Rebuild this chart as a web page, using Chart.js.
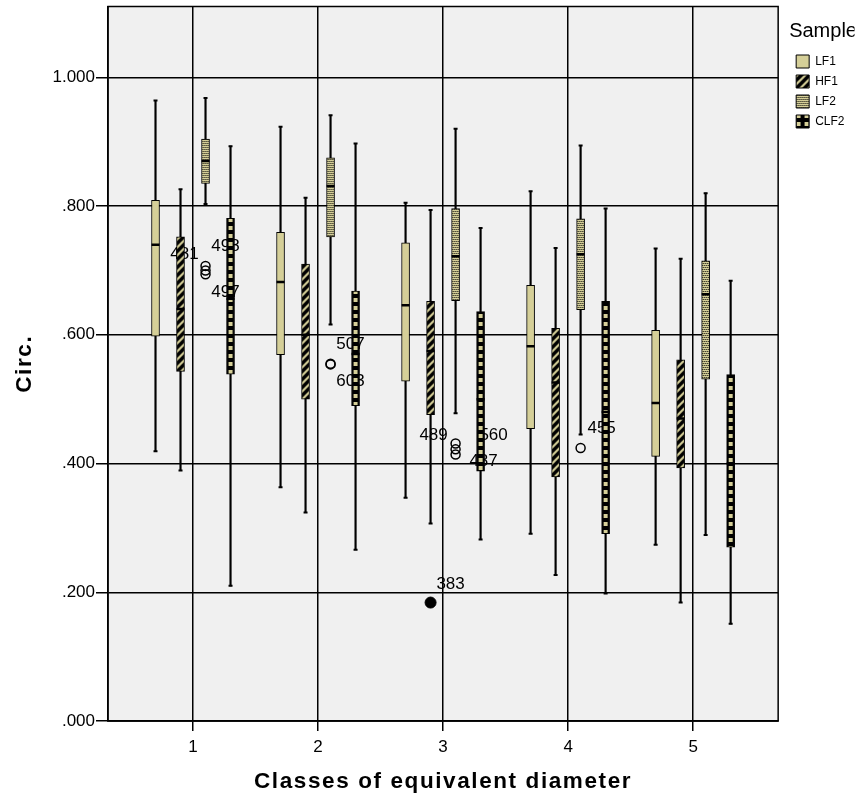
<!DOCTYPE html>
<html>
<head>
<meta charset="utf-8">
<script src="https://cdn.jsdelivr.net/npm/chart.js@4.4.0/dist/chart.umd.min.js"></script>
<style>
  html, body { margin: 0; padding: 0; background: #fff; }
</style>
</head>
<body>
<canvas id="box-chart" width="867" height="801"></canvas>
<script>
const categories = [1, 2, 3, 4, 5];
const seriesNames = ["LF1", "HF1", "LF2", "CLF2"];
const yTicks = [0, 0.2, 0.4, 0.6, 0.8, 1.0];

// [min, q1, median, q3, max] for each class of equivalent diameter
const lf1 = [
  [0.419, 0.598, 0.740, 0.809, 0.964],
  [0.363, 0.569, 0.682, 0.759, 0.923],
  [0.347, 0.528, 0.646, 0.743, 0.805],
  [0.291, 0.454, 0.582, 0.677, 0.823],
  [0.274, 0.411, 0.494, 0.607, 0.734],
];
const hf1 = [
  [0.389, 0.543, 0.640, 0.752, 0.826],
  [0.324, 0.500, 0.600, 0.710, 0.813],
  [0.307, 0.476, 0.575, 0.652, 0.794],
  [0.227, 0.379, 0.526, 0.610, 0.735],
  [0.184, 0.393, 0.470, 0.561, 0.718],
];
const lf2 = [
  [0.803, 0.835, 0.870, 0.904, 0.968],
  [0.616, 0.752, 0.831, 0.875, 0.941],
  [0.478, 0.653, 0.722, 0.796, 0.920],
  [0.445, 0.639, 0.725, 0.780, 0.894],
  [0.289, 0.531, 0.663, 0.715, 0.820],
];
const clf2 = [
  [0.210, 0.539, 0.656, 0.781, 0.893],
  [0.266, 0.490, 0.570, 0.668, 0.897],
  [0.282, 0.388, 0.500, 0.636, 0.766],
  [0.198, 0.291, 0.480, 0.652, 0.796],
  [0.151, 0.270, 0.400, 0.538, 0.684],
];

// [series, class, value, case number]
const outliers = [
  ["LF2", 1, 0.707, "481"],
  ["LF2", 1, 0.700, "498"],
  ["LF2", 1, 0.694, "497"],
  ["LF2", 2, 0.555, "507"],
  ["LF2", 2, 0.554, "603"],
  ["LF2", 3, 0.431, "489"],
  ["LF2", 3, 0.422, "560"],
  ["LF2", 3, 0.414, "487"],
  ["LF2", 4, 0.424, "455"],
];
const extremes = [
  ["HF1", 3, 0.184, "383"],
];

// layout only: where each box sits inside its class, and label nudges in px
const seriesOffset = [-0.3, -0.1, 0.1, 0.3];
const labelOffsets = {
  "481": [-21, -12], "498": [20, -24], "497": [20, 18],
  "507": [20, -19], "603": [20, 17],
  "489": [-22, -8], "560": [38, -14], "487": [28, 7],
  "455": [21, -20], "383": [20, -18],
};

Chart.defaults.font.family = "'Liberation Sans', Arial, sans-serif";
Chart.defaults.color = "#000";

const KHAKI = "#d5cf98";
const canvas = document.getElementById("box-chart");
const ctx2d = canvas.getContext("2d");

function tile(w, h, bg, paint) {
  const c = document.createElement("canvas");
  c.width = w;
  c.height = h;
  const g = c.getContext("2d");
  g.fillStyle = bg;
  g.fillRect(0, 0, w, h);
  g.fillStyle = KHAKI;
  g.strokeStyle = KHAKI;
  paint(g);
  return c;
}

const tiles = {
  HF1: tile(8, 8, "#000", g => {
    g.lineWidth = 2.2;
    g.beginPath();
    g.moveTo(-1, 9); g.lineTo(9, -1);
    g.moveTo(-1, 1); g.lineTo(1, -1);
    g.moveTo(7, 9); g.lineTo(9, 7);
    g.stroke();
  }),
  LF2: tile(4, 4, KHAKI, g => {
    g.fillStyle = "#000";
    g.fillRect(0, 1, 1, 1);
    g.fillRect(2, 1, 1, 1);
    g.fillRect(1, 3, 1, 1);
    g.fillRect(3, 3, 1, 1);
  }),
  CLF2: tile(8, 8, "#000", g => g.fillRect(2, 2, 4, 4)),
};

function fillFor(name, px) {
  if (!tiles[name]) return KHAKI;
  const p = ctx2d.createPattern(tiles[name], "repeat");
  if (px !== undefined) p.setTransform(new DOMMatrix().translate(px - 4, 0));
  return p;
}

function fmt(v) {
  const s = v.toFixed(3);
  return v < 1 ? s.slice(1) : s;
}

const datasets = [];
[lf1, hf1, lf2, clf2].forEach((stats, s) => {
  const name = seriesNames[s];
  const xs = categories.map(c => c + seriesOffset[s]);
  datasets.push({
    type: "bar",
    label: name,
    data: stats.map((v, i) => ({ x: xs[i], y: [v[1], v[3]] })),
    backgroundColor: c => c.raw ? fillFor(name, c.chart.scales.x.getPixelForValue(c.raw.x)) : fillFor(name),
    borderColor: "#000",
    borderWidth: 1,
    borderSkipped: false,
    barThickness: 8,
    grouped: false,
    order: 2,
  });
  datasets.push({
    type: "bar",
    label: name + " whisker",
    data: stats.map((v, i) => ({ x: xs[i], y: [v[0], v[4]] })),
    backgroundColor: "#000",
    borderWidth: 0,
    barThickness: 1.5,
    grouped: false,
    order: 3,
  });
  datasets.push({
    type: "scatter",
    label: name + " caps",
    data: stats.flatMap((v, i) => [{ x: xs[i], y: v[0] }, { x: xs[i], y: v[4] }]),
    pointStyle: "line",
    pointRadius: 2,
    pointBorderWidth: 2,
    pointBorderColor: "#000",
    order: 1,
  });
  datasets.push({
    type: "scatter",
    label: name + " median",
    data: stats.map((v, i) => ({ x: xs[i], y: v[2] })),
    pointStyle: "line",
    pointRadius: 4,
    pointBorderWidth: 2.5,
    pointBorderColor: "#000",
    order: 1,
  });
});

const pointOf = ([name, cls, value]) => ({ x: cls + seriesOffset[seriesNames.indexOf(name)], y: value });

datasets.push({
  type: "scatter",
  label: "outliers",
  data: outliers.map(pointOf),
  pointStyle: "circle",
  pointRadius: 4.5,
  pointBorderWidth: 1.5,
  pointBorderColor: "#000",
  pointBackgroundColor: "rgba(0,0,0,0)",
  order: 0,
});
datasets.push({
  type: "scatter",
  label: "extremes",
  data: extremes.map(pointOf),
  pointStyle: "circle",
  pointRadius: 5.5,
  pointBorderWidth: 1,
  pointBorderColor: "#000",
  pointBackgroundColor: "#000",
  order: 0,
});

// grey plot background + closed frame. SPSS spaces out the axis titles a bit:
// spacing is switched on here and off again by the hidden "gap" axis, which
// draws right after the grid/title layers (z -2)
const plotFrame = {
  id: "plotFrame",
  beforeDraw(chart) {
    const { ctx, chartArea: a } = chart;
    ctx.save();
    ctx.fillStyle = "#f0f0f0";
    ctx.fillRect(a.left, a.top, a.width, a.height);
    ctx.restore();
    ctx.letterSpacing = "1.6px";
  },
  beforeDatasetsDraw(chart) {
    chart.ctx.letterSpacing = "0px";
  },
  afterDraw(chart) {
    const { ctx, chartArea: a } = chart;
    ctx.save();
    ctx.strokeStyle = "#000";
    ctx.lineWidth = 1.5;
    ctx.strokeRect(a.left, a.top, a.width, a.height);
    ctx.restore();
  },
};

// case numbers next to outliers, painted under the boxes like SPSS does
const outlierLabels = {
  id: "outlierLabels",
  beforeDatasetsDraw(chart) {
    const { ctx, scales: { x, y } } = chart;
    ctx.save();
    ctx.font = "17px 'Liberation Sans', Arial, sans-serif";
    ctx.fillStyle = "#000";
    ctx.textAlign = "center";
    ctx.textBaseline = "middle";
    [...outliers, ...extremes].forEach(o => {
      const p = pointOf(o);
      const off = labelOffsets[o[3]];
      ctx.fillText(o[3], x.getPixelForValue(p.x) + off[0], y.getPixelForValue(p.y) + off[1]);
    });
    ctx.restore();
  },
};

new Chart(canvas, {
  type: "bar",
  data: { datasets },
  options: {
    responsive: false,
    animation: false,
    devicePixelRatio: 1,
    events: [],
    layout: { padding: { top: 5, right: 12.5, left: 0, bottom: 0 } },
    scales: {
      x: {
        type: "linear",
        min: 0.32,
        max: 5.68,
        offset: false,
        afterBuildTicks: s => { s.ticks = categories.map(c => ({ value: c })); },
        ticks: { callback: v => String(v), font: { size: 17 }, padding: 6, autoSkip: false, maxRotation: 0 },
        grid: { color: "#000", lineWidth: 1.5, tickLength: 10, offset: false, z: -2 },
        border: { color: "#000", width: 1.5 },
        title: {
          display: true,
          text: "Classes of equivalent diameter",
          font: { size: 22.5, weight: "bold" },
          padding: { top: 0, bottom: 6 },
        },
        afterFit: s => {
          s.height = 80;
          s.paddingLeft = 0;
          s.paddingRight = 0;
        },
      },
      y: {
        min: 0,
        max: 1.11,
        afterBuildTicks: s => { s.ticks = yTicks.map(v => ({ value: v })); },
        ticks: { callback: v => fmt(v), font: { size: 17 }, padding: 1 },
        grid: { color: "#000", lineWidth: 1.5, tickLength: 12, z: -2 },
        border: { color: "#000", width: 1.5 },
        title: {
          display: true,
          text: "Circ.",
          font: { size: 22.5, weight: "bold" },
          padding: { top: 11, bottom: 0 },
        },
        afterFit: s => {
          s.width = 108;
          s.paddingTop = 0;
          s.paddingBottom = 0;
        },
      },
      gap: {
        type: "linear",
        position: "right",
        grid: { display: false },
        border: {
          display: true,
          z: -1,
          width: c => { c.chart.ctx.letterSpacing = "0px"; return 0; },
        },
        ticks: { display: false },
        afterFit: s => { s.width = 11; },
      },
    },
    plugins: {
      tooltip: { enabled: false },
      legend: {
        position: "right",
        align: "start",
        title: {
          display: true,
          text: "Sample",
          position: "start",
          font: { size: 20 },
          padding: { top: 16, bottom: 3 },
        },
        labels: {
          boxWidth: 13,
          boxHeight: 13,
          padding: 7,
          font: { size: 12 },
          filter: item => seriesNames.includes(item.text),
        },
      },
    },
  },
  plugins: [plotFrame, outlierLabels],
});
</script>
</body>
</html>
